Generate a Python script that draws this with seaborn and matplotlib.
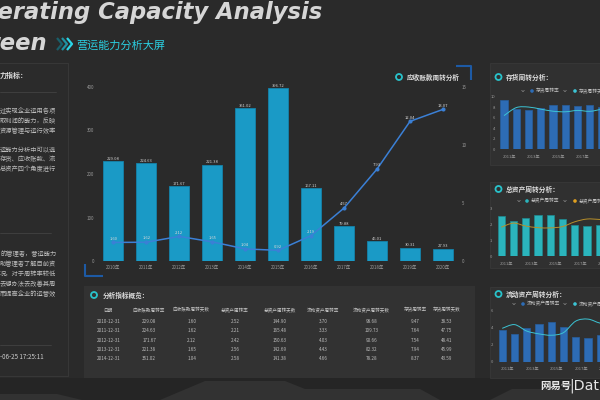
import numpy as np
import seaborn as sns
import matplotlib.pyplot as plt
from matplotlib.patches import Circle, Polygon, Rectangle, PathPatch
from matplotlib.path import Path

sns.set_style("dark")
plt.rcParams['font.family'] = ['Noto Sans CJK SC', 'DejaVu Sans']
plt.rcParams['axes.unicode_minus'] = False

W, H = 600, 400
BG = '#2a2a2a'
PANEL = '#303030'
TICK = '#9a9a9a'
CYAN = '#29c3cb'

# --- data ---
years = ['2010年', '2011年', '2012年', '2013年', '2014年', '2015年',
         '2016年', '2017年', '2018年', '2019年', '2020年']
ar_rate = [229.08, 224.63, 171.67, 221.38, 351.02, 396.72, 167.11, 79.88, 46.01, 30.31, 27.93]
ar_days = [1.60, 1.62, 2.12, 1.65, 1.04, 0.92, 2.19, 4.57, 7.93, 12.04, 13.07]
inv_rate = [9.47, 7.64, 7.54, 7.94, 8.37, 8.50, 8.20, 8.40, 8.00, 8.20, 8.10]
inv_days = [38.53, 47.75, 48.41, 45.99, 43.59, 42.94, 44.51, 43.45, 45.63, 44.50, 45.06]
ta_rate = [2.52, 2.21, 2.42, 2.56, 2.58, 2.35, 1.96, 1.88, 1.94, 2.00, 2.10]
ta_days = [144.90, 165.48, 150.63, 142.69, 141.38, 148.00, 172.00, 186.00, 184.00, 180.00, 176.00]
ca_rate = [3.70, 3.33, 4.03, 4.43, 4.66, 4.10, 2.98, 2.80, 3.15, 3.30, 3.40]
ca_days = [98.68, 109.73, 90.66, 82.32, 78.28, 86.00, 120.00, 126.00, 114.00, 110.00, 107.00]

table_header = ['日期', '应收账款周转率', '应收账款周转天数', '总资产周转率', '总资产周转天数',
                '流动资产周转率', '流动资产周转天数', '存货周转率', '存货周转天数']
table_dates = ['2010-12-31', '2011-12-31', '2012-12-31', '2013-12-31', '2014-12-31']

left_lines = [
    ('力指标：', 75, True),
    ('过实现企业运用各项', 111, False),
    ('取利润的能力，反映', 121, False),
    ('资源管理与运行效率', 131, False),
    ('运能力分析中可以选', 149, False),
    ('存货、应收账款、流', 159, False),
    ('总资产四个角度进行', 169, False),
    ('的管理者，营运能力', 254, False),
    ('助管理者了解目前资', 264, False),
    ('况，对于周转率较低', 274, False),
    ('去想办法去改善其周', 284, False),
    ('而提高企业的运营效', 294, False),
]

fig = plt.figure(figsize=(6, 4), dpi=100, facecolor=BG)


def px_axes(x0, y0, x1, y1, z=1):
    return fig.add_axes([x0 / W, 1 - y1 / H, (x1 - x0) / W, (y1 - y0) / H], zorder=z)


def style_ax(ax, size=3.2, pad=1.5):
    ax.set_facecolor('none')
    for s in ax.spines.values():
        s.set_visible(False)
    ax.grid(False)
    ax.tick_params(length=0, colors=TICK, labelsize=size, pad=pad)
    ax.set_xlabel('')
    ax.set_ylabel('')


def smooth_line(ax, xs, ys, color, lw):
    xs = np.asarray(xs, float)
    ys = np.asarray(ys, float)
    n = len(xs)
    verts = [(xs[0], ys[0])]
    codes = [Path.MOVETO]
    for i in range(n - 1):
        p0 = np.array([xs[max(i - 1, 0)], ys[max(i - 1, 0)]])
        p1 = np.array([xs[i], ys[i]])
        p2 = np.array([xs[i + 1], ys[i + 1]])
        p3 = np.array([xs[min(i + 2, n - 1)], ys[min(i + 2, n - 1)]])
        c1 = p1 + (p2 - p0) / 6
        c2 = p2 - (p3 - p1) / 6
        verts += [tuple(c1), tuple(c2), tuple(p2)]
        codes += [Path.CURVE4] * 3
    ax.add_patch(PathPatch(Path(verts, codes), fill=False, ec=color, lw=lw))


# background / overlay layers in pixel coords
bg = px_axes(0, 0, W, H, z=0)
bg.set_xlim(0, W)
bg.set_ylim(H, 0)
bg.axis('off')
fg = px_axes(0, 0, W, H, z=10)
fg.set_xlim(0, W)
fg.set_ylim(H, 0)
fg.axis('off')

# bottom decoration
bg.add_patch(Rectangle((0, 378), W, 22, color='#252525', lw=0))
for pts in ([(160, 400), (205, 381), (285, 381), (305, 389), (420, 389), (440, 400)],
            [(0, 394), (57, 394), (82, 400), (0, 400)],
            [(490, 400), (512, 389), (600, 389), (600, 400)]):
    bg.add_patch(Polygon(pts, closed=True, color='#323232', lw=0))

# panels
bg.add_patch(Rectangle((-5, 63), 73, 313, fc='#2b2b2b', ec='#3a3a3a', lw=0.6))
bg.add_patch(Rectangle((84, 286), 391, 92, fc='#323232', ec='none'))
for top, bot in ((63, 165), (182, 268), (287, 378)):
    bg.add_patch(Rectangle((490, top), 120, bot - top, fc=PANEL, ec='#383838', lw=0.6))

# title
fig.text(322 / W, 1 - 18.5 / H, 'Operating Capacity Analysis', ha='right', va='baseline',
         fontsize=16.3, fontweight='bold', fontstyle='italic', color='#d6d6d6', family='DejaVu Sans')
fig.text(47 / W, 1 - 50 / H, 'Screen', ha='right', va='baseline',
         fontsize=16.3, fontweight='bold', fontstyle='italic', color='#d6d6d6', family='DejaVu Sans')
for k, c in enumerate(['#1a5f6a', '#1f93a3', '#2ad6e8']):
    x0 = 57 + k * 5
    fg.plot([x0, x0 + 5, x0], [38, 44, 50], color=c, lw=1.6, solid_capstyle='butt')
fig.text(76 / W, 1 - 46 / H, '营运能力分析大屏', ha='left', va='center', fontsize=8, color='#2ad0e2')

# left panel text
for txt, y, bold in left_lines:
    fig.text(0, 1 - y / H, txt, ha='left', va='center', fontsize=5 if bold else 4.5,
             fontweight='bold' if bold else 'normal', color='#dedede' if bold else '#bdbdbd')
for y, x1 in ((92, 56), (233, 51), (345, 51)):
    fg.plot([0, x1], [y, y], color='#474747', lw=0.5)
fig.text(0, 1 - 357 / H, '-06-25 17:25:11', ha='left', va='center', fontsize=4.5, color='#cccccc')

# --- main chart ---
ax = px_axes(96.8, 87, 459.5, 261, z=2)
sns.barplot(x=years, y=ar_rate, color='#1a9ac6', width=0.6, saturation=1,
            edgecolor='#1583ab', linewidth=0.6, ax=ax)
ax.set_xlim(-0.5, 10.5)
ax.set_ylim(0, 400)
ax.set_yticks([0, 100, 200, 300, 400])
style_ax(ax, size=3.2, pad=1.8)
ax.tick_params(axis='x', pad=3)
for i, v in enumerate(ar_rate):
    ax.text(i, v + 1, f'{v:.2f}', ha='center', va='bottom', fontsize=3, color='#d0d0d0')
ax2 = ax.twinx()
sns.lineplot(x=np.arange(len(years)), y=ar_days, ax=ax2, color='#3b80d6', lw=1.1,
             marker='o', markersize=2.2, markeredgecolor='#3b80d6')
ax2.set_ylim(0, 15)
ax2.set_yticks([0, 5, 10, 15])
style_ax(ax2, size=3.2, pad=1.5)
for i, d in enumerate(ar_days):
    ax2.text(i, d + 0.15, f'{d:.2f}', ha='center', va='bottom', fontsize=3, color='#d8d8d8')

fg.add_patch(Circle((399, 77), 3, fill=False, ec=CYAN, lw=1.3))
fg.text(407, 77, '应收账款周转分析', ha='left', va='center', fontsize=4.8, fontweight='bold', color='#dddddd')
fg.plot([85, 85, 103], [264, 275.5, 275.5], color='#1d5aa5', lw=1.5, solid_capstyle='butt')
fg.plot([456, 471, 471], [66, 66, 80], color='#1d5aa5', lw=1.5, solid_capstyle='butt')

# --- table ---
fg.add_patch(Circle((94, 295), 3, fill=False, ec=CYAN, lw=1.3))
fg.text(103, 295, '分析指标概览：', ha='left', va='center', fontsize=4.8, fontweight='bold', color='#dddddd')
col_x = [108.3, 149.3, 191.7, 235, 280, 323.3, 371.7, 415, 446.7]
row_y = [321.7, 330.7, 340, 349.3, 359]
columns = [table_dates, ar_rate, ar_days, ta_rate, ta_days, ca_rate, ca_days, inv_rate, inv_days]
for cx, head in zip(col_x, table_header):
    fg.text(cx, 310, head, ha='center', va='center', fontsize=3.3, color='#c8c8c8')
for cx, col in zip(col_x, columns):
    for ry, val in zip(row_y, col[:5]):
        s = val if isinstance(val, str) else f'{val:.2f}'
        fg.text(cx, ry, s, ha='center', va='center', fontsize=3.3, color='#bdbdbd')


# --- right small charts ---
def small_chart(title, ty, left, top, bot, rates, days, ymax, yticks, dmax,
                bar_c, bar_e, line_c, leg):
    a = px_axes(left, top, left + 12.25 * len(years), bot, z=2)
    sns.barplot(x=years, y=rates, color=bar_c, width=0.6, saturation=1,
                edgecolor=bar_e, linewidth=0.5, ax=a)
    a.set_xlim(-0.5, len(years) - 0.5)
    a.set_ylim(0, ymax)
    a.set_yticks(yticks)
    a.set_xticks(np.arange(0, 10, 2) + 0.45)
    a.set_xticklabels(years[1::2])
    style_ax(a, size=3, pad=2)
    a.tick_params(axis='x', pad=4)
    b = a.twinx()
    smooth_line(b, np.arange(len(years)), days, line_c, 0.7)
    b.set_ylim(0, dmax)
    b.axis('off')
    fg.add_patch(Circle((498.5, ty), 3, fill=False, ec=CYAN, lw=1.3))
    fg.text(506, ty, title, ha='left', va='center', fontsize=4.9, fontweight='bold', color='#dddddd')
    ly = leg[0]
    for xc, xd, col, lab in leg[1]:
        fg.plot([xc - 1.3, xc, xc + 1.3], [ly - 0.7, ly + 0.7, ly - 0.7], color='#8a8a8a', lw=0.5)
        fg.add_patch(Circle((xd, ly), 1.8, color=col, lw=0))
        fg.text(xd + 3.5, ly, lab, ha='left', va='center', fontsize=3.4, color='#c4c4c4')


small_chart('存货周转分析：', 77, 497.9, 97, 149, inv_rate, inv_days, 10, [0, 2, 4, 6, 8, 10], 60,
            '#2d6cb5', '#285f9e', '#3cc4d4',
            (91, [(523, 532, '#2d6cb5', '存货周转率'), (565, 575, '#3cc4d4', '存货周转天数')]))
small_chart('总资产周转分析：', 189, 495.1, 208.3, 256, ta_rate, ta_days, 3, [0, 1, 2, 3], 240,
            '#2bb4bc', '#1f8a90', '#b88f2a',
            (201, [(519, 527, '#2bb4bc', '总资产周转率'), (565, 575, '#e0a020', '总资产周转天数')]))
small_chart('流动资产周转分析：', 294, 496.1, 311, 361.7, ca_rate, ca_days, 6, [0, 2, 4, 6], 150,
            '#2d6cb5', '#285f9e', '#3cc4d4',
            (304, [(514, 523, '#2d6cb5', '流动资产周转率'), (565, 575, '#3cc4d4', '流动资产周转天数')]))

# watermark
fg.text(540, 386, '网易号', ha='left', va='center', fontsize=7.5, fontweight='bold', color='#e6e6e6')
fg.text(569, 386, '|Data', ha='left', va='center', fontsize=10.3, color='#e6e6e6', family='DejaVu Sans')

fig.savefig('out.png', dpi=100, facecolor=BG)
